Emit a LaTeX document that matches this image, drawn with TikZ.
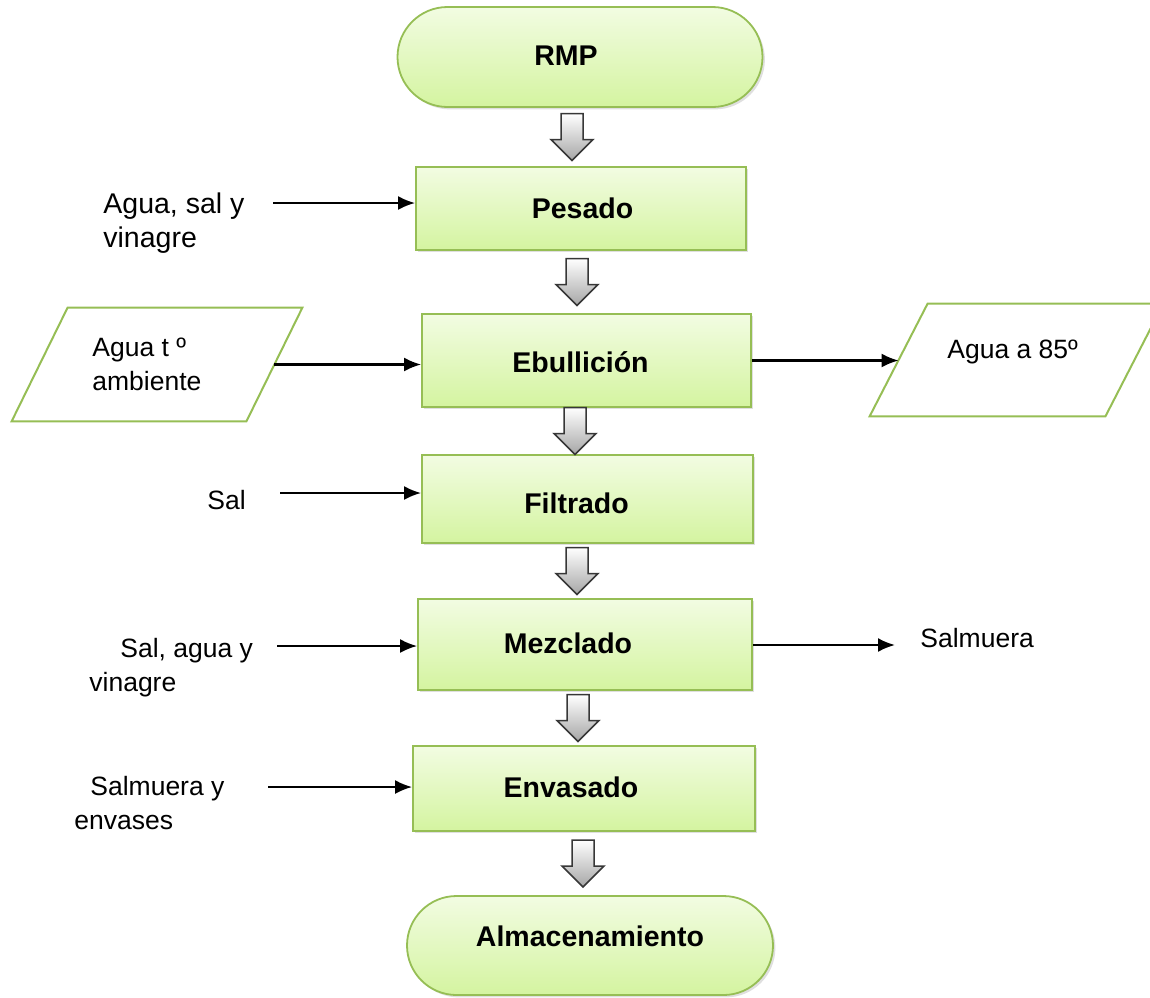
\documentclass[tikz,border=0pt]{standalone}
\usepackage{fontspec}
\setmainfont{Liberation Sans}
\usetikzlibrary{shapes.misc,arrows.meta,calc,shadows}

\definecolor{boxtop}{RGB}{242,252,226}
\definecolor{boxbot}{RGB}{212,244,160}
\definecolor{boxline}{RGB}{150,190,85}
\definecolor{arrline}{RGB}{55,55,55}

\tikzset{
  stage/.style={draw=boxline, line width=0.9pt, top color=boxtop, bottom color=boxbot,
    drop shadow={shadow xshift=1.2pt, shadow yshift=-1.2pt, opacity=0.25}, inner sep=0pt},
  procbox/.style={stage, rectangle},
  termbox/.style={stage, rounded rectangle},
  ioframe/.style={rectangle, inner sep=0pt},
  ioline/.style={draw=boxline, line width=1pt, fill=white, line join=miter},
  stagetext/.style={font=\fontsize{14.25}{17}\selectfont\bfseries, anchor=base, inner sep=0pt},
  sidetext/.style={font=\fontsize{13.25}{16.75}\selectfont, anchor=north west, align=left, inner sep=0pt},
  feed/.style={-{Latex[length=8.5pt,width=7pt]}, line width=1.1pt, black},
  blockarrow/.style={draw=arrline, line width=0.75pt, top color=white, bottom color=black!35, line join=miter},
}

% hollow downward block arrow centred in the gap between two stacked nodes
% #1 = x position, #2 = upper node, #3 = lower node
\newcommand{\flowdown}[3]{%
  \path[blockarrow] let \p1=($(#2.south)!0.5!(#3.north)$), \p2=(#1,0) in
    ({\x2-5.5pt},{\y1+11.75pt}) -- ({\x2+5.5pt},{\y1+11.75pt}) --
    ({\x2+5.5pt},{\y1-1.25pt}) -- ({\x2+10.5pt},{\y1-1.25pt}) --
    (\x2,{\y1-11.75pt}) -- ({\x2-10.5pt},{\y1-1.25pt}) --
    ({\x2-5.5pt},{\y1-1.25pt}) -- cycle;}

% slanted data box drawn inside the frame of node #1, top edge shifted right by #2
\newcommand{\dataslant}[2]{%
  \path[ioline] (#1.south west) -- ($(#1.south east)+(-#2,0)$) --
    (#1.north east) -- ($(#1.north west)+(#2,0)$) -- cycle;}

\begin{document}
\begin{tikzpicture}[x=0.5pt, y=-0.5pt]
\useasboundingbox (0,0) rectangle (1150,997);

% main process column
\node[termbox, minimum width=182.5pt, minimum height=50pt] (rmp) at (580,57) {};
\node[procbox, minimum width=165pt, minimum height=41.5pt] (pesado) at (581,208.5) {};
\node[procbox, minimum width=164.5pt, minimum height=46.5pt] (ebullicion) at (586.5,360.5) {};
\node[procbox, minimum width=165.5pt, minimum height=44pt] (filtrado) at (587.5,499) {};
\node[procbox, minimum width=167pt, minimum height=45.5pt] (mezclado) at (585,644.5) {};
\node[procbox, minimum width=171pt, minimum height=42.5pt] (envasado) at (584,788.5) {};
\node[termbox, minimum width=183pt, minimum height=49.5pt] (almacen) at (590,945.5) {};

\node[stagetext] (rmp-t) at (566,65) {RMP};
\node[stagetext] (pesado-t) at (582.5,218) {Pesado};
\node[stagetext] (ebullicion-t) at (580.5,372) {Ebullición};
\node[stagetext] (filtrado-t) at (576.5,513) {Filtrado};
\node[stagetext] (mezclado-t) at (568,653) {Mezclado};
\node[stagetext] (envasado-t) at (571,797) {Envasado};
\node[stagetext] (almacen-t) at (590,946) {Almacenamiento};

% block arrows between the stages
\flowdown{572}{rmp}{pesado}
\flowdown{577}{pesado}{ebullicion}
\flowdown{575}{ebullicion}{filtrado}
\flowdown{577}{filtrado}{mezclado}
\flowdown{578}{mezclado}{envasado}
\flowdown{583}{envasado}{almacen}

% input / output parallelograms
\node[ioframe, minimum width=145pt, minimum height=56.5pt] (inL) at (157,364.5) {};
\dataslant{inL}{56}
\coordinate (inL-r) at ($(inL.east)+(-28,0)$);
\node[ioframe, minimum width=146.5pt, minimum height=56pt] (outR) at (1016.5,360) {};
\dataslant{outR}{58}
\coordinate (outR-l) at ($(outR.west)+(29,0)$);

% side labels
\node[sidetext, font=\fontsize{14.25}{17}\selectfont] (agua-sal) at (103,192.5) {Agua, sal y\\vinagre};
\node[sidetext] (agua-amb) at (92,338) {Agua t º\\ambiente};
\node[sidetext] (agua-85) at (947,340) {Agua a 85º};
\node[sidetext] (sal) at (207,490) {Sal};
\node[sidetext] (sal-agua) at (89,638) {\hspace*{15.5pt}Sal, agua y\\vinagre};
\node[sidetext] (salmuera) at (920,628) {Salmuera};
\node[sidetext] (salm-env) at (74,776) {\hspace*{8pt}Salmuera y\\envases};

% feed arrows
\coordinate (f1) at (273,203);
\draw[feed] (f1) -- (f1 -| pesado.west);
\draw[feed] (inL-r) -- (inL-r -| ebullicion.west);
\draw[feed] (ebullicion.east) -- (ebullicion.east -| outR-l);
\coordinate (f4) at (280,493);
\draw[feed] (f4) -- (f4 -| filtrado.west);
\coordinate (f5) at (277,646);
\draw[feed] (f5) -- (f5 -| mezclado.west);
\coordinate (f6) at (895,645);
\draw[feed] (mezclado.east |- f6) -- (f6);
\coordinate (f7) at (268,787);
\draw[feed] (f7) -- (f7 -| envasado.west);
\end{tikzpicture}
\end{document}
